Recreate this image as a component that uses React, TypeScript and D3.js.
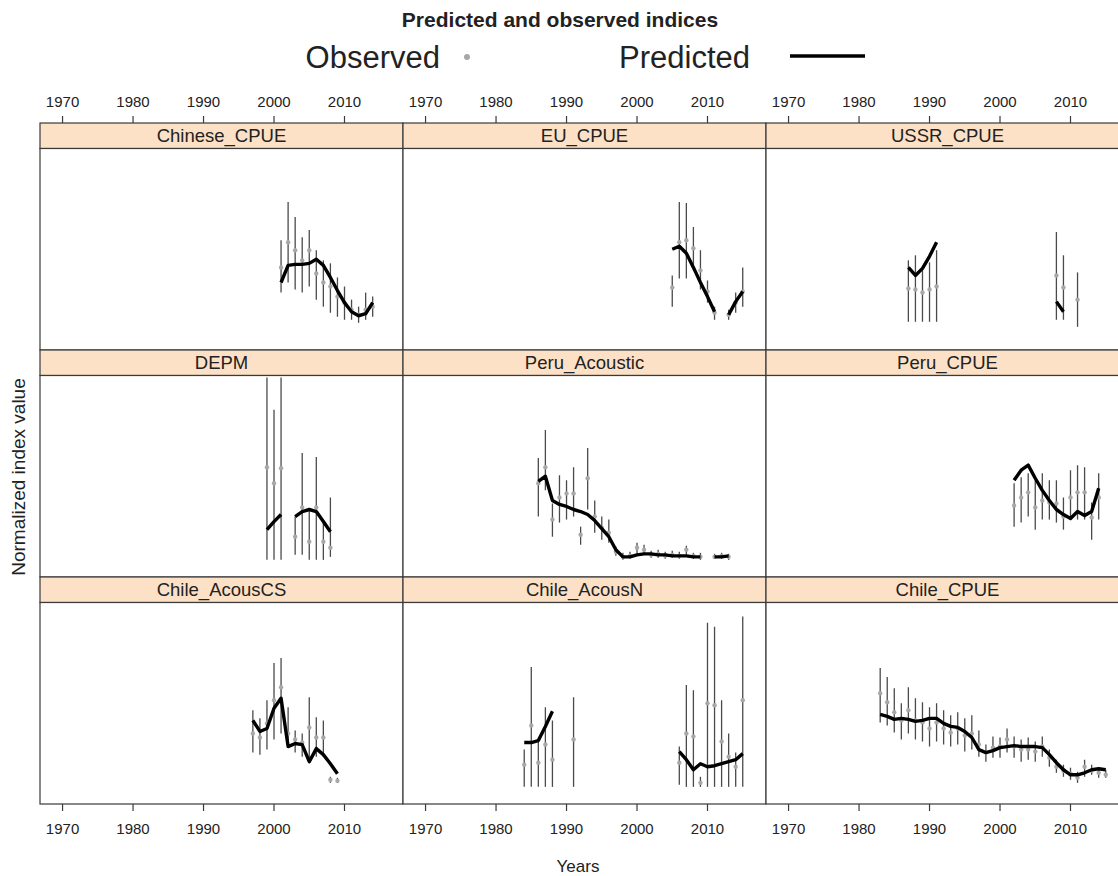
import React from "react";
import * as d3 from "d3";

// ---- data: normalized index values per fleet / survey ----
const chineseYears = [2001, 2002, 2003, 2004, 2005, 2006, 2007, 2008, 2009, 2010, 2011, 2012, 2013, 2014];
const chineseObs = [0.82, 1.07, 0.99, 0.89, 0.99, 0.76, 0.67, 0.63, 0.53, 0.47, 0.4, 0.35, 0.4, 0.43];
const chineseLo = [0.57, 0.67, 0.6, 0.57, 0.63, 0.5, 0.43, 0.37, 0.33, 0.3, 0.3, 0.27, 0.3, 0.33];
const chineseHi = [1.09, 1.47, 1.32, 1.12, 1.19, 0.99, 0.89, 0.86, 0.72, 0.63, 0.5, 0.43, 0.57, 0.53];
const chinesePred = [0.67, 0.84, 0.85, 0.85, 0.86, 0.9, 0.84, 0.72, 0.59, 0.47, 0.38, 0.34, 0.36, 0.47];

const euYears = [2005, 2006, 2007, 2008, 2009, 2010, 2011, 2013, 2014, 2015];
const euObs = [0.62, 1.07, 1.09, 1.01, 0.79, 0.58, 0.37, 0.35, 0.47, 0.58];
const euLo = [0.43, 0.71, 0.71, 0.79, 0.6, 0.47, 0.3, 0.3, 0.37, 0.43];
const euHi = [0.74, 1.47, 1.46, 1.22, 0.99, 0.69, 0.43, 0.4, 0.57, 0.82];
const euPred = [1.0, 1.03, 0.96, 0.82, 0.67, 0.53, 0.38, 0.35, 0.48, 0.58];

const ussrYears = [1987, 1988, 1989, 1990, 1991, 2008, 2009, 2011];
const ussrObs = [0.61, 0.6, 0.57, 0.6, 0.63, 0.74, 0.62, 0.5];
const ussrLo = [0.28, 0.28, 0.28, 0.28, 0.28, 0.3, 0.3, 0.23];
const ussrHi = [0.89, 0.94, 0.82, 0.87, 0.99, 1.17, 0.94, 0.77];
const ussrPred = [0.82, 0.74, 0.81, 0.93, 1.07, 0.48, 0.38, null];

const depmYears = [1999, 2000, 2001, 2003, 2004, 2005, 2006, 2007, 2008];
const depmObs = [1.09, 0.93, 1.08, 0.4, 0.69, 0.35, 0.69, 0.35, 0.29];
const depmLo = [0.17, 0.17, 0.17, 0.22, 0.22, 0.17, 0.17, 0.17, 0.2];
const depmHi = [1.98, 1.66, 1.98, 0.6, 1.23, 0.67, 1.19, 0.54, 0.79];
const depmPred = [0.47, 0.55, 0.62, 0.6, 0.65, 0.67, 0.65, 0.55, 0.45];

const peruAcYears = [1986, 1987, 1988, 1989, 1990, 1991, 1992, 1993, 1994, 1995, 1996, 1997, 1998, 1999, 2000, 2001, 2002, 2003, 2004, 2005, 2006, 2007, 2008, 2009, 2011, 2012, 2013];
const peruAcObs = [0.93, 1.09, 0.57, 0.79, 0.83, 0.83, 0.42, 0.98, 0.6, 0.49, 0.44, 0.25, 0.2, 0.21, 0.29, 0.27, 0.22, 0.23, 0.21, 0.22, 0.21, 0.27, 0.21, 0.2, 0.2, 0.21, 0.2];
const peruAcLo = [0.6, 0.86, 0.4, 0.54, 0.57, 0.6, 0.32, 0.67, 0.44, 0.37, 0.34, 0.21, 0.17, 0.18, 0.23, 0.22, 0.19, 0.19, 0.18, 0.19, 0.18, 0.22, 0.18, 0.17, 0.18, 0.18, 0.17];
const peruAcHi = [1.18, 1.46, 0.73, 1.01, 0.96, 1.09, 0.5, 1.28, 0.76, 0.6, 0.57, 0.3, 0.24, 0.25, 0.34, 0.32, 0.26, 0.27, 0.25, 0.26, 0.25, 0.31, 0.24, 0.24, 0.23, 0.24, 0.23];
const peruAcPred = [0.95, 1.0, 0.76, 0.72, 0.7, 0.67, 0.65, 0.62, 0.56, 0.48, 0.4, 0.27, 0.2, 0.2, 0.22, 0.23, 0.23, 0.22, 0.22, 0.21, 0.21, 0.21, 0.2, 0.2, 0.2, 0.2, 0.21];

const peruCpueYears = [2002, 2003, 2004, 2005, 2006, 2007, 2008, 2009, 2010, 2011, 2012, 2013, 2014];
const peruCpueObs = [0.71, 0.79, 0.84, 0.69, 0.76, 0.74, 0.73, 0.6, 0.79, 0.84, 0.84, 0.59, 0.79];
const peruCpueLo = [0.5, 0.54, 0.6, 0.47, 0.57, 0.57, 0.54, 0.47, 0.57, 0.57, 0.57, 0.37, 0.57];
const peruCpueHi = [0.93, 0.99, 1.03, 0.96, 1.03, 0.96, 0.96, 0.79, 1.06, 1.11, 1.09, 0.74, 1.03];
const peruCpuePred = [0.96, 1.06, 1.11, 0.98, 0.86, 0.76, 0.67, 0.62, 0.58, 0.65, 0.61, 0.65, 0.88];

const acousCSYears = [1997, 1998, 1999, 2000, 2001, 2002, 2003, 2004, 2005, 2006, 2007, 2008, 2009];
const acousCSObs = [0.7, 0.66, 0.8, 1.03, 1.16, 0.7, 0.64, 0.61, 0.76, 0.66, 0.66, 0.24, 0.23];
const acousCSLo = [0.51, 0.49, 0.54, 0.64, 0.7, 0.57, 0.51, 0.47, 0.44, 0.47, 0.47, 0.21, 0.21];
const acousCSHi = [0.93, 0.85, 1.03, 1.4, 1.45, 0.96, 0.73, 0.7, 1.06, 0.86, 0.83, 0.27, 0.26];
const acousCSPred = [0.83, 0.72, 0.75, 0.95, 1.05, 0.57, 0.6, 0.59, 0.42, 0.55, 0.49, 0.4, 0.3];

const acousNYears = [1984, 1985, 1986, 1987, 1988, 1991, 2006, 2007, 2008, 2009, 2010, 2011, 2012, 2013, 2014, 2015];
const acousNObs = [0.39, 0.78, 0.41, 0.59, 0.44, 0.64, 0.41, 0.7, 0.67, 0.21, 1.0, 0.98, 0.62, 0.47, 0.37, 1.03];
const acousNLo = [0.17, 0.17, 0.17, 0.17, 0.17, 0.17, 0.19, 0.17, 0.17, 0.17, 0.17, 0.17, 0.17, 0.17, 0.17, 0.17];
const acousNHi = [0.54, 1.36, 0.64, 0.96, 0.83, 1.06, 0.57, 1.18, 1.13, 0.27, 1.8, 1.76, 1.03, 0.7, 0.51, 1.86];
const acousNPred = [0.61, 0.61, 0.63, 0.77, 0.92, null, 0.52, 0.44, 0.34, 0.4, 0.37, 0.38, 0.4, 0.42, 0.44, 0.5];

const chileCpueYears = [1983, 1984, 1985, 1986, 1987, 1988, 1989, 1990, 1991, 1992, 1993, 1994, 1995, 1996, 1997, 1998, 1999, 2000, 2001, 2002, 2003, 2004, 2005, 2006, 2007, 2008, 2009, 2010, 2011, 2012, 2013, 2014, 2015];
const chileCpueObs = [1.1, 1.01, 0.91, 0.83, 0.93, 0.83, 0.81, 0.75, 0.81, 0.75, 0.71, 0.75, 0.68, 0.7, 0.59, 0.51, 0.56, 0.57, 0.64, 0.57, 0.54, 0.54, 0.52, 0.57, 0.46, 0.37, 0.33, 0.3, 0.26, 0.37, 0.33, 0.31, 0.29];
const chileCpueLo = [0.81, 0.78, 0.71, 0.64, 0.7, 0.64, 0.62, 0.57, 0.62, 0.59, 0.57, 0.59, 0.52, 0.54, 0.47, 0.42, 0.46, 0.46, 0.51, 0.46, 0.42, 0.44, 0.42, 0.47, 0.37, 0.31, 0.27, 0.24, 0.21, 0.27, 0.29, 0.26, 0.26];
const chileCpueHi = [1.35, 1.26, 1.15, 1.0, 1.16, 1.05, 1.01, 0.96, 1.0, 0.93, 0.88, 0.91, 0.85, 0.88, 0.73, 0.59, 0.67, 0.66, 0.75, 0.67, 0.64, 0.66, 0.62, 0.67, 0.54, 0.44, 0.39, 0.36, 0.32, 0.44, 0.39, 0.36, 0.34];
const chileCpuePred = [0.89, 0.87, 0.84, 0.85, 0.84, 0.82, 0.83, 0.85, 0.85, 0.8, 0.77, 0.76, 0.72, 0.66, 0.54, 0.51, 0.53, 0.56, 0.57, 0.58, 0.57, 0.57, 0.57, 0.56, 0.49, 0.41, 0.34, 0.29, 0.29, 0.31, 0.34, 0.35, 0.34];

const panelNames = [
  "Chinese_CPUE", "EU_CPUE", "USSR_CPUE",
  "DEPM", "Peru_Acoustic", "Peru_CPUE",
  "Chile_AcousCS", "Chile_AcousN", "Chile_CPUE",
];
const xTicks = [1970, 1980, 1990, 2000, 2010];
const yearDomain = [1966.8, 2018.3];
const valueDomain = [0, 2];

type Series = { years: number[]; obs: number[]; lo: number[]; hi: number[]; pred: (number | null)[] };
const series: Series[] = [
  { years: chineseYears, obs: chineseObs, lo: chineseLo, hi: chineseHi, pred: chinesePred },
  { years: euYears, obs: euObs, lo: euLo, hi: euHi, pred: euPred },
  { years: ussrYears, obs: ussrObs, lo: ussrLo, hi: ussrHi, pred: ussrPred },
  { years: depmYears, obs: depmObs, lo: depmLo, hi: depmHi, pred: depmPred },
  { years: peruAcYears, obs: peruAcObs, lo: peruAcLo, hi: peruAcHi, pred: peruAcPred },
  { years: peruCpueYears, obs: peruCpueObs, lo: peruCpueLo, hi: peruCpueHi, pred: peruCpuePred },
  { years: acousCSYears, obs: acousCSObs, lo: acousCSLo, hi: acousCSHi, pred: acousCSPred },
  { years: acousNYears, obs: acousNObs, lo: acousNLo, hi: acousNHi, pred: acousNPred },
  { years: chileCpueYears, obs: chileCpueObs, lo: chileCpueLo, hi: chileCpueHi, pred: chileCpuePred },
];

// ---- layout ----
const W = 1118;
const H = 876;
const colLeft = [40, 403, 766];
const panelW = 363;
const firstStripTop = 123;
const rowPitch = 227;
const stripH = 25.5;
const panelH = rowPitch - stripH;
const FONT = "'Liberation Sans', Arial, Helvetica, sans-serif";
const STRIP_FILL = "#fde1c6";
const FRAME = "#3a3a3a";
const INK = "#222";

// split predicted values into runs of consecutive years
function predSegments(s: Series): [number, number][][] {
  const segs: [number, number][][] = [];
  let cur: [number, number][] = [];
  s.years.forEach((yr, i) => {
    const p = s.pred[i];
    const prevYr = i > 0 ? s.years[i - 1] : null;
    if (p == null) {
      if (cur.length) segs.push(cur);
      cur = [];
      return;
    }
    if (cur.length && prevYr !== null && yr - prevYr > 1) {
      segs.push(cur);
      cur = [];
    }
    cur.push([yr, p]);
  });
  if (cur.length) segs.push(cur);
  return segs;
}

function Panel({ idx }: { idx: number }) {
  const col = idx % 3;
  const row = Math.floor(idx / 3);
  const x0 = colLeft[col];
  const stripTop = firstStripTop + row * rowPitch;
  const top = stripTop + stripH;
  const bottom = top + panelH;
  const x = d3.scaleLinear().domain(yearDomain).range([x0, x0 + panelW]);
  const y = d3.scaleLinear().domain(valueDomain).range([bottom, top]);
  const s = series[idx];
  const line = d3.line<[number, number]>().x((d) => x(d[0])).y((d) => y(d[1]));
  const segs = predSegments(s);
  const clipId = `clip-${idx}`;
  return (
    <g>
      <defs>
        <clipPath id={clipId}>
          <rect x={x0} y={top} width={panelW} height={panelH} />
        </clipPath>
      </defs>
      <rect x={x0} y={stripTop} width={panelW} height={stripH} fill={STRIP_FILL} stroke={FRAME} strokeWidth={1.2} />
      <text
        x={x0 + panelW / 2}
        y={stripTop + stripH / 2 + 6}
        textAnchor="middle"
        fontFamily={FONT}
        fontSize={18.5}
        fill={INK}
      >
        {panelNames[idx]}
      </text>
      <rect x={x0} y={top} width={panelW} height={panelH} fill="white" stroke={FRAME} strokeWidth={1.2} />
      <g clipPath={`url(#${clipId})`}>
        {s.years.map((yr, i) => (
          <line key={`e${i}`} x1={x(yr)} x2={x(yr)} y1={y(s.lo[i])} y2={y(s.hi[i])} stroke="#4a4a4a" strokeWidth={1.3} />
        ))}
        {s.years.map((yr, i) => (
          <circle key={`p${i}`} cx={x(yr)} cy={y(s.obs[i])} r={2.2} fill="#a8a8a8" />
        ))}
        {segs.map((seg, i) => (
          <path key={`l${i}`} d={line(seg) || ""} fill="none" stroke="#000" strokeWidth={3.4} strokeLinejoin="round" strokeLinecap="butt" />
        ))}
      </g>
    </g>
  );
}

function Axes() {
  const topY = firstStripTop;
  const bottomY = firstStripTop + 3 * rowPitch;
  return (
    <g fontFamily={FONT} fontSize={15} fill={INK}>
      {colLeft.map((x0, c) => {
        const x = d3.scaleLinear().domain(yearDomain).range([x0, x0 + panelW]);
        return (
          <g key={c}>
            {xTicks.map((t) => (
              <g key={t}>
                <line x1={x(t)} x2={x(t)} y1={topY} y2={topY - 7} stroke={FRAME} strokeWidth={1.2} />
                <text x={x(t)} y={topY - 16} textAnchor="middle">{t}</text>
                <line x1={x(t)} x2={x(t)} y1={bottomY} y2={bottomY + 7} stroke={FRAME} strokeWidth={1.2} />
                <text x={x(t)} y={bottomY + 30} textAnchor="middle">{t}</text>
              </g>
            ))}
          </g>
        );
      })}
    </g>
  );
}

export default function App() {
  return (
    <svg
      width={W}
      height={H}
      viewBox={`0 0 ${W} ${H}`}
      style={{ position: "absolute", left: 0, top: 0, background: "white" }}
    >
      <rect x={0} y={0} width={W} height={H} fill="white" />
      <text x={560} y={27} textAnchor="middle" fontFamily={FONT} fontWeight="bold" fontSize={21} fill={INK}>
        Predicted and observed indices
      </text>
      <text x={440} y={68} textAnchor="end" fontFamily={FONT} fontSize={31} fill={INK}>Observed</text>
      <circle cx={467} cy={57} r={3} fill="#a8a8a8" />
      <text x={750} y={68} textAnchor="end" fontFamily={FONT} fontSize={31} fill={INK}>Predicted</text>
      <line x1={790} x2={865} y1={56} y2={56} stroke="#000" strokeWidth={3.6} />
      {panelNames.map((_, i) => (
        <Panel key={i} idx={i} />
      ))}
      <Axes />
      <text
        transform={`translate(25, 477) rotate(-90)`}
        textAnchor="middle"
        fontFamily={FONT}
        fontSize={19}
        fill={INK}
      >
        Normalized index value
      </text>
      <text x={578} y={872} textAnchor="middle" fontFamily={FONT} fontSize={17} fill={INK}>Years</text>
    </svg>
  );
}
